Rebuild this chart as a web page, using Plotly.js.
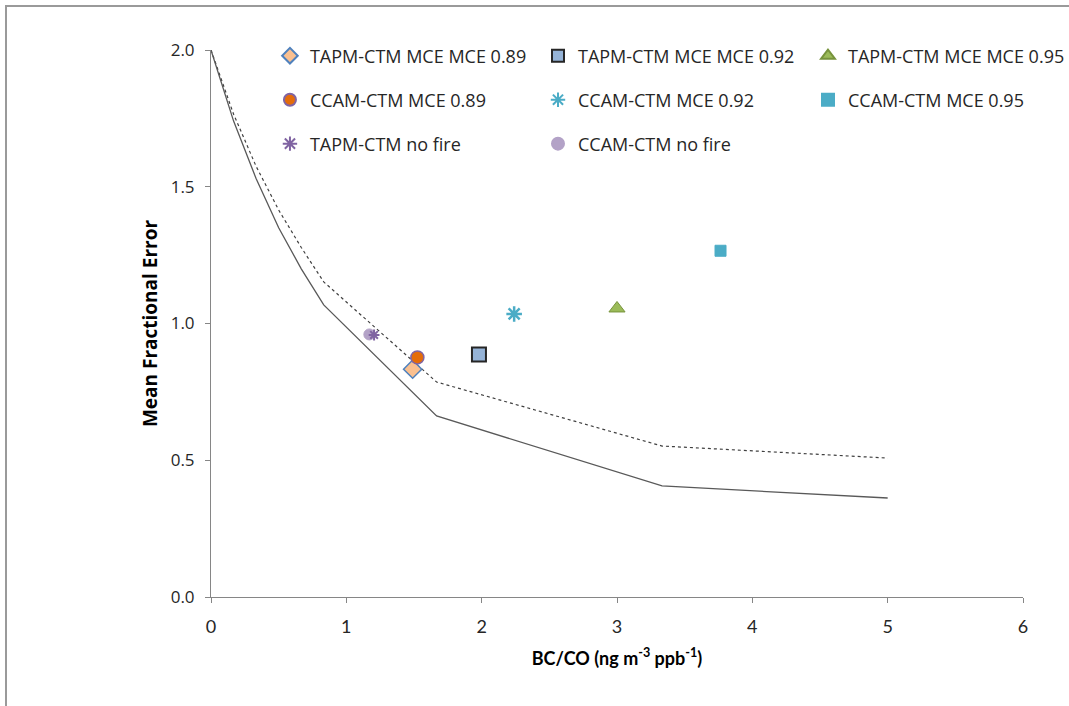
<!DOCTYPE html>
<html>
<head>
<meta charset="utf-8">
<script src="https://cdn.plot.ly/plotly-3.0.1.min.js"></script>
<style>
  html, body { margin: 0; padding: 0; background: #ffffff; }
  #wrap { position: relative; width: 1069px; height: 706px; overflow: hidden; }
  #chart { position: absolute; left: 0; top: 0; width: 1069px; height: 706px; }
  #frame { position: absolute; left: 5px; top: 5px; width: 1070px; height: 710px;
           border-left: 2px solid #9a9a9a; border-top: 2px solid #9a9a9a; pointer-events: none; }
</style>
</head>
<body>
<div id="wrap">
  <div id="chart"></div>
  <div id="frame"></div>
</div>
<script>
// Reference curves (BC/CO vs Mean Fractional Error)
const curveX = [0, 0.167, 0.333, 0.5, 0.667, 0.833, 1.667, 3.333, 5];
const lowerMFE = [2.0, 1.74, 1.53, 1.35, 1.20, 1.068, 0.662, 0.406, 0.362];
const upperMFE = [2.0, 1.765, 1.575, 1.415, 1.278, 1.152, 0.786, 0.552, 0.508];

// Model points
const seriesNames = [
  "TAPM-CTM MCE MCE 0.89", "TAPM-CTM MCE MCE 0.92", "TAPM-CTM MCE MCE 0.95",
  "CCAM-CTM MCE 0.89", "CCAM-CTM MCE 0.92", "CCAM-CTM MCE 0.95",
  "TAPM-CTM no fire", "CCAM-CTM no fire"
];
const bcco = [1.49, 1.98, 3.00, 1.525, 2.24, 3.765, 1.205, 1.17];
const mfe  = [0.833, 0.887, 1.055, 0.876, 1.035, 1.266, 0.958, 0.96];

const xTicks = [0, 1, 2, 3, 4, 5, 6];
const yTicks = [0.0, 0.5, 1.0, 1.5, 2.0];

const markerStyles = [
  {symbol: "diamond", size: 14, color: "#FAC090", line: {color: "#4F81BD", width: 1.5}},
  {symbol: "square", size: 14, color: "#95B3D7", line: {color: "#262626", width: 2}},
  {symbol: "triangle-up", size: 14, color: "#9BBB59", line: {color: "#77933C", width: 1}},
  {symbol: "circle", size: 13, color: "#E46C0A", line: {color: "#8064A2", width: 1.5}},
  {symbol: "asterisk-open", size: 13, color: "#4BACC6", line: {color: "#4BACC6", width: 2.5}},
  {symbol: "square", size: 11, color: "#4BACC6", line: {color: "#4BACC6", width: 1}},
  {symbol: "asterisk-open", size: 9, color: "#8064A2", line: {color: "#8064A2", width: 2}},
  {symbol: "circle", size: 11, color: "#B3A2C7", line: {color: "#B3A2C7", width: 1}}
];

const legendFont = {family: "Open Sans, sans-serif", size: 18, color: "#262626"};
// legend slot: column and row for each series
const legendCol = [0, 1, 2, 0, 1, 2, 0, 1];
const legendRow = [0, 0, 0, 1, 1, 1, 2, 2];
const colX = [0.0726, 0.4027, 0.7352];
const rowY = [0.989, 0.9086, 0.8282];

const traces = [
  {x: curveX, y: upperMFE, mode: "lines", showlegend: false, hoverinfo: "skip",
   line: {color: "#404040", width: 1.2, dash: "dot"}},
  {x: curveX, y: lowerMFE, mode: "lines", showlegend: false, hoverinfo: "skip",
   line: {color: "#595959", width: 1.3}}
];
const drawOrder = [7, 6, 0, 3, 1, 4, 2, 5];
drawOrder.forEach(function(i) {
  const ms = markerStyles[i];
  traces.push({
    x: [bcco[i]], y: [mfe[i]], mode: "markers", name: seriesNames[i],
    legend: i === 0 ? "legend" : "legend" + (i + 1),
    marker: {symbol: ms.symbol, size: ms.size, color: ms.color, line: ms.line}
  });
});

const layout = {
  width: 1069, height: 706,
  margin: {l: 211, r: 46, t: 50, b: 109, autoexpand: false},
  paper_bgcolor: "rgba(0,0,0,0)", plot_bgcolor: "rgba(0,0,0,0)",
  xaxis: {
    range: [0, 6], tickvals: xTicks, ticktext: xTicks.map(String),
    showgrid: false, zeroline: false, showline: true, linecolor: "#868686", linewidth: 1,
    ticks: "outside", ticklen: 5, tickcolor: "#868686", ticklabelstandoff: 8,
    tickfont: {family: "Lato, sans-serif", size: 18, color: "#262626"},
    title: {text: "<b>BC/CO (ng m<sup>-3</sup> ppb<sup>-1</sup>)</b>", standoff: 16,
            font: {family: "Lato, sans-serif", size: 18, color: "#000000"}}
  },
  yaxis: {
    range: [0, 2], tickvals: yTicks, ticktext: yTicks.map(v => v.toFixed(1)),
    showgrid: false, zeroline: false, showline: true, linecolor: "#868686", linewidth: 1,
    ticks: "outside", ticklen: 5, tickcolor: "#868686", ticklabelstandoff: 7,
    tickfont: {family: "Open Sans, sans-serif", size: 17, color: "#262626"},
    title: {text: "<b>Mean Fractional Error</b>", standoff: 8,
            font: {family: "Open Sans, sans-serif", size: 19, color: "#000000"}}
  },
  showlegend: true
};

seriesNames.forEach(function(n, i) {
  const key = i === 0 ? "legend" : "legend" + (i + 1);
  layout[key] = {
    x: colX[legendCol[i]], y: rowY[legendRow[i]], xanchor: "left", yanchor: "middle",
    orientation: "v", bgcolor: "rgba(0,0,0,0)", borderwidth: 0,
    font: legendFont, itemsizing: "constant"
  };
});

Plotly.newPlot("chart", traces, layout, {displayModeBar: false, staticPlot: true});
</script>
</body>
</html>
